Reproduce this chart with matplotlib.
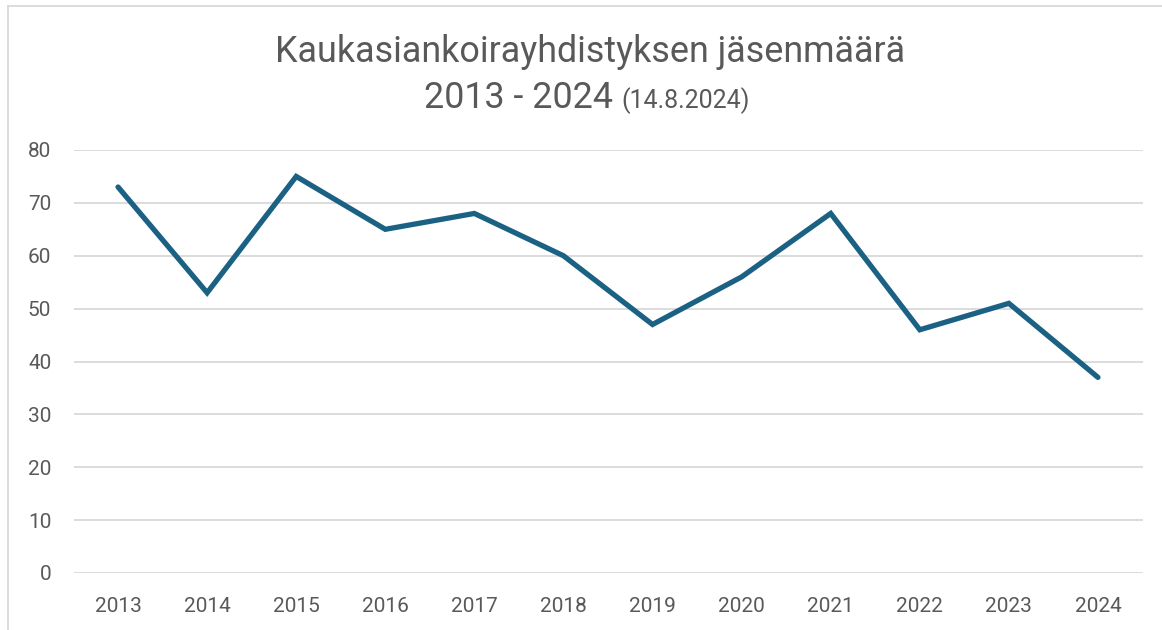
import matplotlib
matplotlib.use('Agg')
import matplotlib.pyplot as plt
from matplotlib.lines import Line2D

years = ['2013', '2014', '2015', '2016', '2017', '2018',
         '2019', '2020', '2021', '2022', '2023', '2024']
members = [73, 53, 75, 65, 68, 60, 47, 56, 68, 46, 51, 37]
yticks = [0, 10, 20, 30, 40, 50, 60, 70, 80]

W, H = 1162, 630
text_color = '#595959'
grid_color = '#D9D9D9'
line_color = '#1B6184'

plt.rcParams['font.family'] = ['Roboto', 'DejaVu Sans']

fig = plt.figure(figsize=(W / 100, H / 100), dpi=100)
ax = fig.add_axes([73.5 / W, 1 - 573 / H, (1142.5 - 73.5) / W, (573 - 150) / H])

x = range(len(years))
ax.plot(x, members, color=line_color, lw=3.8, solid_capstyle='round',
        solid_joinstyle='miter', zorder=3)

ax.set_xlim(-0.5, len(years) - 0.5)
ax.set_ylim(0, 80)
ax.set_yticks(yticks)
ax.set_xticks(list(x))
ax.set_xticklabels(years)
ax.grid(axis='y', color=grid_color, lw=1.3)
ax.set_axisbelow(True)
for s in ax.spines.values():
    s.set_visible(False)
ax.tick_params(axis='both', length=0, labelsize=15, colors=text_color)
ax.tick_params(axis='y', pad=16)
ax.tick_params(axis='x', pad=17.5)

# chart border
fig.add_artist(Line2D([8 / W, 8 / W], [0, 1 - 6 / H], color='#D9D9D9', lw=1.3))
fig.add_artist(Line2D([8 / W, 1], [1 - 6 / H, 1 - 6 / H], color='#D9D9D9', lw=1.3))

fig.text(590 / W, 1 - 62 / H, 'Kaukasiankoirayhdistyksen jäsenmäärä',
         ha='center', va='baseline', fontsize=25.8, color=text_color)
fig.text(613 / W, 1 - 108 / H, '2013 - 2024', ha='right', va='baseline',
         fontsize=25.8, color=text_color)
fig.text(621 / W, 1 - 108 / H, '(14.8.2024)', ha='left', va='baseline',
         fontsize=18, color=text_color)

fig.savefig('out.png', dpi=100)
